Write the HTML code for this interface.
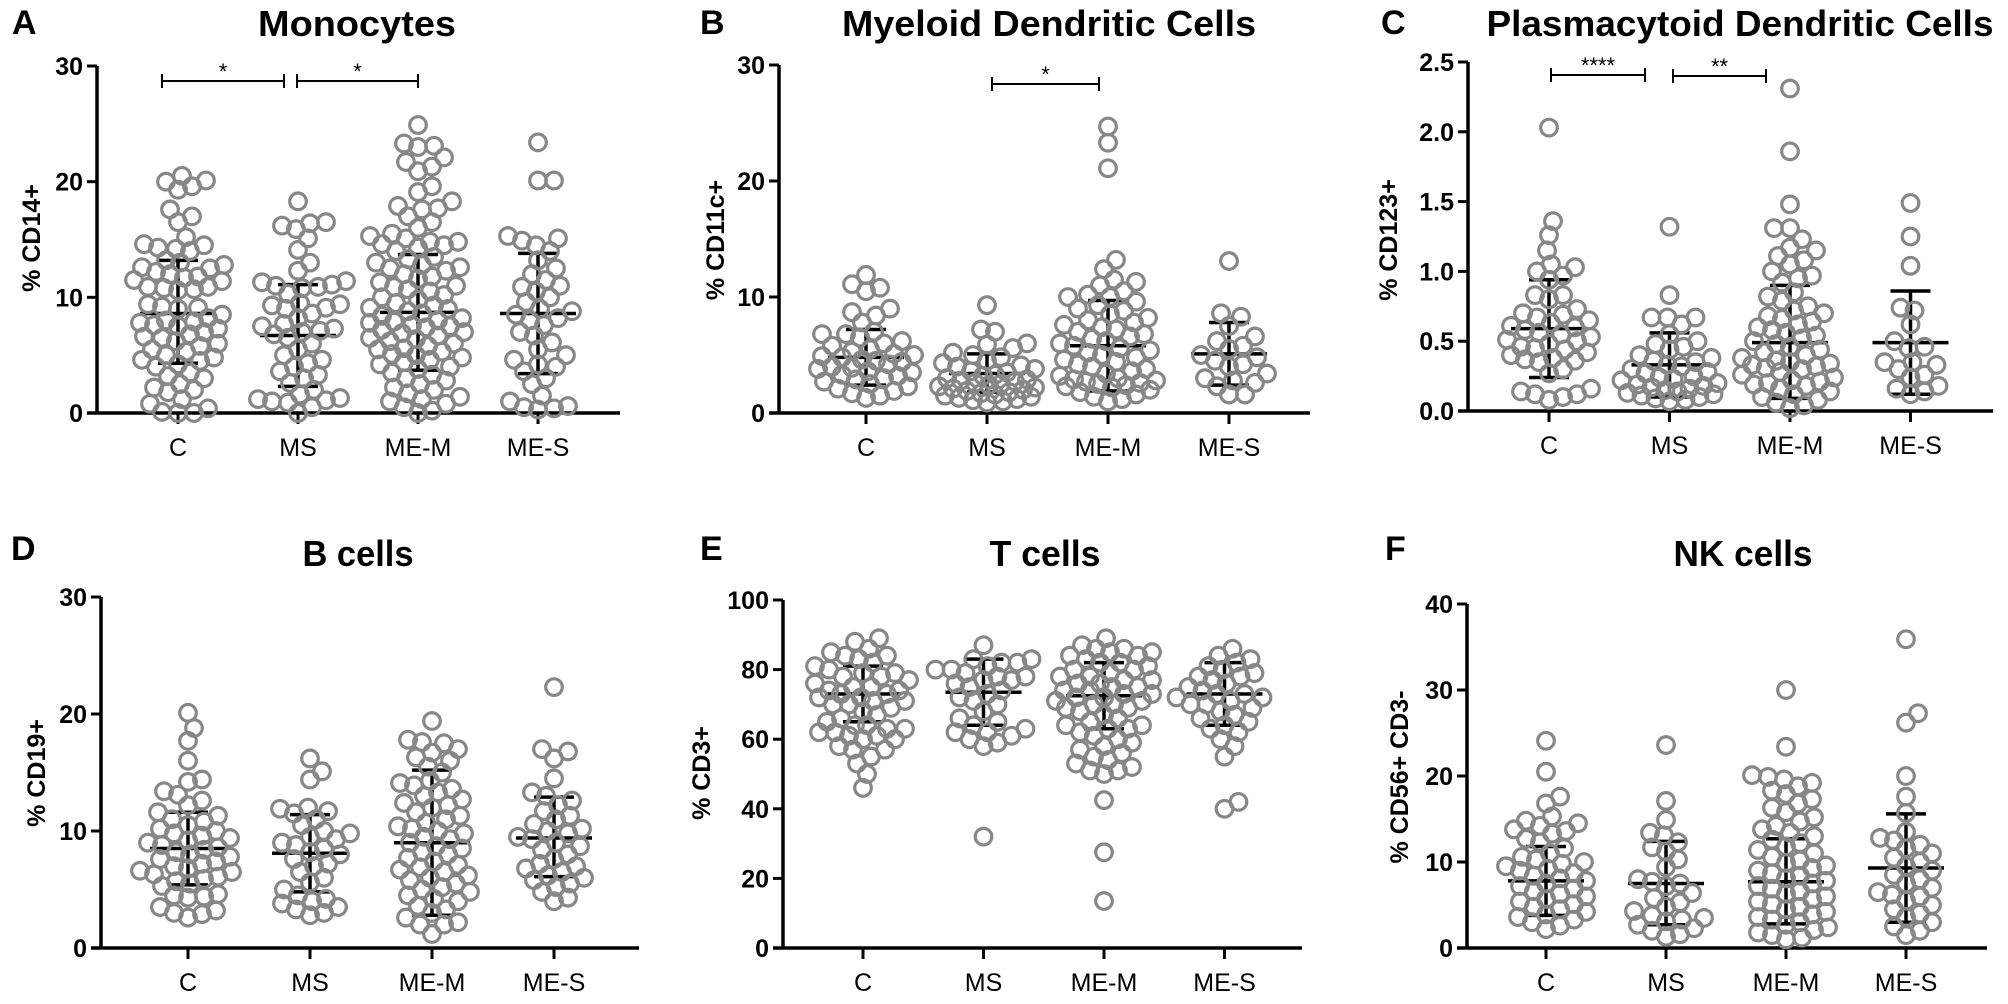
<!DOCTYPE html>
<html><head><meta charset="utf-8"><style>
body{margin:0;background:#fff;}
svg{display:block;font-family:"Liberation Sans",sans-serif;}
</style></head><body>
<svg id="fig" width="2008" height="1004" viewBox="0 0 2008 1004" xmlns="http://www.w3.org/2000/svg"></svg>
<script>
const categories = ["C","MS","ME-M","ME-S"];
// Panel A Monocytes %CD14+
const monoC=[20.1,19.6,19.3,20.0,20.5,17.6,16.5,17.0,15.2,14.5,14.3,14.2,14.0,14.6,13.2,13.0,12.8,12.5,12.2,12.6,12.0,11.8,11.5,11.4,11.7,10.9,10.8,10.7,10.6,10.9,9.2,9.0,9.4,9.1,8.5,8.2,8.0,7.8,7.6,7.9,7.5,7.3,7.0,6.8,6.6,6.5,6.2,6.0,5.8,5.5,5.3,5.0,4.8,4.6,4.5,4.2,4.0,3.5,3.2,3.0,2.5,2.2,2.0,1.8,1.2,0.8,0.4,0.1,0.0,0.0];
const monoMS=[18.3,16.5,16.2,15.9,16.4,15.1,14.1,13.0,12.3,11.3,11.1,11.0,10.9,10.8,11.4,10.3,9.5,9.3,9.1,9.4,9.0,8.6,8.2,7.7,7.5,7.3,7.1,7.0,6.8,6.5,6.0,5.5,5.0,4.6,4.3,4.0,3.6,3.3,3.0,2.6,2.0,1.6,1.3,1.1,1.0,0.9,1.2,0.5,0.0];
const monoMEM=[24.9,23.3,23.1,23.0,22.1,21.7,21.3,20.9,19.6,19.1,18.3,17.9,17.7,17.6,17.0,16.5,16.0,15.5,15.3,15.1,14.8,14.6,14.5,14.3,14.8,14.0,13.5,13.3,13.0,12.8,12.6,12.5,12.3,12.0,11.8,11.6,11.3,11.0,10.9,10.7,10.5,10.2,10.0,9.8,9.5,9.3,9.1,9.0,8.8,8.6,8.4,8.2,8.0,7.9,7.8,7.6,7.5,7.4,7.2,7.0,6.9,6.7,6.5,6.4,6.2,6.0,5.8,5.6,5.5,5.3,5.1,5.0,4.8,4.6,4.4,4.2,4.0,3.8,3.5,3.3,3.0,2.8,2.5,2.2,2.0,1.7,1.4,1.2,1.0,0.8,0.5,0.2,0.0];
const monoMES=[23.4,20.1,20.1,15.3,15.1,14.9,14.5,14.0,13.2,12.5,12.0,11.5,11.0,10.9,10.5,10.0,9.6,9.0,8.8,8.5,8.2,8.0,7.6,7.0,6.7,6.1,5.5,5.0,4.6,4.2,4.0,3.6,3.0,2.5,1.5,1.0,0.6,0.5,0.3,0.4];
const monoMean=[8.6,6.7,8.7,8.6], monoLo=[4.3,2.3,3.7,3.4], monoHi=[13.2,11.1,13.7,13.8];
// Panel B mDC %CD11c+
const mdcC=[11.9,11.1,10.8,10.5,9.0,8.7,8.4,7.8,7.0,6.8,6.8,6.5,6.2,6.0,5.8,5.5,5.3,5.1,5.0,4.9,4.8,4.6,4.5,4.4,4.2,4.0,3.9,3.8,3.6,3.5,3.3,3.2,3.0,2.9,2.7,2.5,2.3,2.1,1.9,1.7,1.5,1.3];
const mdcMS=[9.3,7.2,7.0,6.0,5.9,5.6,5.2,5.0,4.8,4.5,4.3,4.1,4.0,3.8,3.6,3.5,3.3,3.2,3.0,2.9,2.8,2.7,2.6,2.5,2.4,2.3,2.2,2.1,2.0,1.9,1.8,1.7,1.6,1.5,1.4,1.3,1.2,1.1,1.0,0.9];
const mdcMEM=[24.7,23.3,21.1,13.2,12.4,11.5,11.3,11.0,10.5,10.2,10.0,10.0,9.6,9.3,9.0,8.8,8.5,8.2,8.0,7.8,7.6,7.4,7.2,7.0,6.8,6.6,6.4,6.2,6.0,5.8,5.6,5.4,5.2,5.0,4.8,4.6,4.4,4.2,4.0,3.8,3.6,3.4,3.2,3.0,2.9,2.8,2.7,2.6,2.5,2.4,2.3,2.2,2.0,1.8,1.6,1.4,1.2,1.0];
const mdcMES=[13.1,8.6,8.3,7.5,6.6,6.2,5.8,5.5,5.0,4.8,4.5,4.2,4.0,3.4,3.0,2.8,2.6,2.3,1.6,1.6];
const mdcMean=[4.8,3.4,5.8,5.1], mdcLo=[2.4,1.8,1.9,2.4], mdcHi=[7.2,5.1,9.7,7.8];
// Panel C pDC %CD123+
const pdcC=[2.03,1.36,1.26,1.15,1.05,1.03,1.00,0.97,0.94,0.83,0.83,0.80,0.73,0.70,0.69,0.67,0.65,0.63,0.61,0.60,0.58,0.56,0.55,0.53,0.51,0.50,0.48,0.46,0.45,0.44,0.42,0.40,0.38,0.37,0.36,0.35,0.30,0.27,0.16,0.14,0.12,0.12,0.10,0.08];
const pdcMS=[1.32,0.83,0.67,0.67,0.67,0.62,0.55,0.50,0.48,0.46,0.44,0.40,0.38,0.36,0.35,0.33,0.32,0.30,0.28,0.27,0.25,0.24,0.23,0.22,0.20,0.19,0.18,0.17,0.16,0.15,0.14,0.13,0.12,0.11,0.10,0.09,0.08,0.07];
const pdcMEM=[2.31,1.86,1.48,1.31,1.31,1.23,1.17,1.15,1.11,1.08,1.05,1.00,0.97,0.95,0.92,0.85,0.82,0.79,0.75,0.72,0.70,0.68,0.66,0.64,0.62,0.60,0.58,0.56,0.54,0.52,0.50,0.48,0.46,0.44,0.42,0.40,0.38,0.36,0.35,0.34,0.33,0.32,0.31,0.30,0.28,0.26,0.24,0.22,0.21,0.20,0.19,0.18,0.16,0.14,0.12,0.10,0.08,0.06,0.04,0.02];
const pdcMES=[1.49,1.25,1.04,0.74,0.72,0.62,0.50,0.46,0.45,0.35,0.35,0.33,0.30,0.26,0.24,0.18,0.16,0.14,0.12];
const pdcMean=[0.59,0.33,0.49,0.49], pdcLo=[0.24,0.10,0.09,0.12], pdcHi=[0.94,0.56,0.90,0.86];
// Panel D B cells %CD19+
const bC=[20.1,18.8,17.7,16.0,14.4,14.2,13.4,13.1,12.6,12.2,11.6,11.3,11.0,10.8,10.5,10.2,10.0,9.8,9.6,9.4,9.2,9.0,8.8,8.6,8.4,8.2,8.0,7.8,7.6,7.4,7.2,7.0,6.8,6.6,6.5,6.3,6.1,5.9,5.7,5.5,5.3,4.6,4.5,4.4,4.3,3.5,3.2,3.0,2.9,2.6];
const bMS=[16.2,15.1,14.4,12.0,11.9,11.7,11.5,11.0,10.5,10.0,9.8,9.5,9.3,9.0,8.8,8.5,8.2,8.0,7.6,7.2,7.0,6.5,6.0,5.6,5.0,4.5,4.2,4.0,3.8,3.5,3.3,3.0,2.8];
const bMEM=[19.4,17.8,17.6,17.5,17.0,16.7,16.3,16.0,15.5,15.0,14.3,14.1,13.9,13.6,13.3,13.0,12.7,12.4,12.2,12.0,11.6,11.3,11.0,10.7,10.4,10.2,10.0,9.8,9.5,9.3,9.0,8.7,8.5,8.2,8.0,7.7,7.4,7.1,6.9,6.7,6.5,6.2,6.0,5.8,5.5,5.2,5.0,4.8,4.5,4.2,4.0,3.6,3.3,3.0,2.6,2.2,2.0,2.0,1.2];
const bMES=[22.3,17.0,16.8,16.2,14.5,13.3,13.0,12.6,12.2,11.7,11.3,11.0,10.6,10.2,10.0,9.8,9.5,9.3,9.0,8.7,8.4,8.0,7.6,7.2,7.0,6.8,6.5,6.2,6.0,5.8,5.5,5.2,4.8,4.3,4.0];
const bMean=[8.5,8.1,9.0,9.4], bLo=[5.4,4.8,2.8,6.1], bHi=[11.6,11.4,15.2,12.9];
// Panel E T cells %CD3+
const tC=[89,88,86,85,84,84,83,82,81,80,79,79,78,78,77,76,75,75,74,74,73,73,72,72,71,71,70,70,69,68,67,66,65,64,64,63,63,62,62,61,61,60,60,58,57,57,55,53,50,46];
const tMS=[87,83,83,82,82,81,80,80,79,78,78,77,77,76,75,74,73,72,71,70,68,66,65,64,63,62,62,61,60,59,58,32];
const tMEM=[89,87,86,86,85,85,84,84,83,82,82,81,80,80,79,78,78,77,77,76,76,75,75,74,74,73,73,72,72,71,71,70,70,69,69,68,67,66,65,64,64,63,63,62,61,60,59,58,57,56,55,54,53,52,51,51,50,42.5,27.5,13.5];
const tMES=[86,84,83,82,81,80,79,78,78,77,76,75,74,73,73,72,72,71,70,70,69,68,67,66,65,64,63,62,60,58,55,42,40];
const tMean=[73,73.5,72.5,73], tLo=[65,64,63,64], tHi=[81,83,82,82];
// Panel F NK cells %CD56+CD3-
const nkC=[24.1,20.5,17.6,16.8,15.3,14.8,14.5,14.2,13.8,13.6,13.3,12.7,12.3,11.6,11.0,10.6,10.3,10.0,9.8,9.5,9.2,9.0,8.7,8.4,8.1,7.8,7.5,7.2,6.9,6.6,6.3,6.0,5.7,5.4,5.1,4.8,4.5,4.2,3.9,3.6,3.3,3.0,2.6,2.2];
const nkMS=[23.6,17.1,14.9,13.4,13.1,12.3,11.7,11.2,10.3,9.4,8.0,7.7,7.5,7.2,6.4,5.8,5.3,4.8,4.3,3.8,3.5,3.3,3.1,2.7,2.3,2.0,1.6,1.3];
const nkMEM=[30.0,23.4,20.1,19.9,19.6,19.2,18.8,18.3,17.9,17.3,16.8,16.3,15.8,15.2,14.7,14.2,13.8,13.4,13.0,12.6,12.2,11.8,11.4,11.0,10.6,10.2,9.9,9.6,9.3,9.0,8.7,8.4,8.1,7.8,7.5,7.2,6.9,6.6,6.3,6.0,5.7,5.4,5.1,4.8,4.5,4.2,3.9,3.6,3.3,3.0,2.7,2.4,2.1,1.8,1.5,1.2,1.0];
const nkMES=[35.9,27.3,26.2,20.0,17.6,15.7,13.5,12.8,12.5,12.0,11.6,11.0,10.5,10.0,9.5,9.0,8.5,8.0,7.5,7.0,6.5,6.2,6.0,5.5,5.0,4.5,4.0,3.6,3.0,2.5,2.0,1.5];
const nkMean=[7.8,7.5,7.7,9.3], nkLo=[3.8,2.7,2.8,3.0], nkHi=[11.8,12.4,12.7,15.6];

const ticksA=["0","10","20","30"], ticksC=["0.0","0.5","1.0","1.5","2.0","2.5"], ticksE=["0","20","40","60","80","100"], ticksF=["0","10","20","30","40"];

const NS="http://www.w3.org/2000/svg";
const svg=document.getElementById('fig');
function mk(tag,attrs,parent){const e=document.createElementNS(NS,tag);for(const k in attrs)e.setAttribute(k,attrs[k]);(parent||svg).appendChild(e);return e;}

const panels=[
 {id:"a",letter:"A",lx:12,ly:34,title:"Monocytes",tx:357,ty:36,tw:198,ylab:"% CD14+",ylx:40,yly:238,ax:97,xEnd:620,y0:413,yTop:66,max:30,ticks:ticksA,c0:178,step:120,groups:[monoC,monoMS,monoMEM,monoMES],mean:monoMean,lo:monoLo,hi:monoHi,sig:[[162,284,81,"*"],[297,418,81,"*"]]},
 {id:"b",letter:"B",lx:700,ly:34,title:"Myeloid Dendritic Cells",tx:1049,ty:36,tw:414,ylab:"% CD11c+",ylx:724,yly:240,ax:779,xEnd:1310,y0:413,yTop:65,max:30,ticks:ticksA,c0:866,step:121,groups:[mdcC,mdcMS,mdcMEM,mdcMES],mean:mdcMean,lo:mdcLo,hi:mdcHi,sig:[[992,1099,84,"*"]]},
 {id:"c",letter:"C",lx:1381,ly:34,title:"Plasmacytoid Dendritic Cells",tx:1740,ty:36,tw:507,ylab:"% CD123+",ylx:1397,yly:240,ax:1468,xEnd:1993,y0:411,yTop:62,max:2.5,ticks:ticksC,c0:1549,step:120.5,groups:[pdcC,pdcMS,pdcMEM,pdcMES],mean:pdcMean,lo:pdcLo,hi:pdcHi,sig:[[1551,1645,75,"****"],[1673,1766,76,"**"]]},
 {id:"d",letter:"D",lx:11,ly:560,title:"B cells",tx:358,ty:566,tw:111,ylab:"% CD19+",ylx:45,yly:773,ax:101,xEnd:639,y0:948,yTop:597,max:30,ticks:ticksA,c0:188,step:122,groups:[bC,bMS,bMEM,bMES],mean:bMean,lo:bLo,hi:bHi,sig:[]},
 {id:"e",letter:"E",lx:700,ly:560,title:"T cells",tx:1045,ty:566,tw:111,ylab:"% CD3+",ylx:710,yly:773,ax:783,xEnd:1302,y0:948,yTop:600,max:100,ticks:ticksE,c0:863,step:120.5,groups:[tC,tMS,tMEM,tMES],mean:tMean,lo:tLo,hi:tHi,sig:[]},
 {id:"f",letter:"F",lx:1385,ly:560,title:"NK cells",tx:1743,ty:566,tw:139,ylab:"% CD56+ CD3-",ylx:1408,yly:777,ax:1467,xEnd:1987,y0:948,yTop:604,max:40,ticks:ticksF,c0:1546,step:120,groups:[nkC,nkMS,nkMEM,nkMES],mean:nkMean,lo:nkLo,hi:nkHi,sig:[]}
];

const R=8.3, GREY="#878787";
function swarm(vals,yf,maxW){
  const sorted=vals.map((v,i)=>({v,y:yf(v)})).sort((a,b)=>b.y-a.y);
  const placed=[];const minD=2*R*0.85;
  sorted.forEach(p=>{
    let best=null,bestScore=-1;
    for(let k=0;k<=Math.ceil(maxW/2);k++){
      const cands=k===0?[0]:[k*2,-k*2];
      for(const dx of cands){
        let md=1e9;
        for(const q of placed){if(Math.abs(q.y-p.y)<minD){const d=Math.hypot(q.dx-dx,q.y-p.y);if(d<md)md=d;}}
        if(md>=minD){best=dx;bestScore=1e9;break;}
        if(md>bestScore){bestScore=md;best=dx;}
      }
      if(bestScore===1e9)break;
    }
    p.dx=best;placed.push(p);
  });
  return placed;
}

panels.forEach(P=>{
  const g=mk('g',{});
  
  
  const yScale=v=>P.y0-(v/P.max)*(P.y0-P.yTop);
  const xScale=i=>P.c0+i*P.step;
  const L=mk('text',{x:P.lx,y:P.ly,'font-size':34,'font-weight':'bold',fill:'#000'},g);L.textContent=P.letter;
  
  const T=mk('text',{x:P.tx,y:P.ty,'text-anchor':'middle','font-size':36,'font-weight':'bold',fill:'#000',textLength:P.tw,lengthAdjust:'spacingAndGlyphs'},g);T.textContent=P.title;
  
  const YL=mk('text',{x:0,y:0,transform:`translate(${P.ylx},${P.yly}) rotate(-90)`,'text-anchor':'middle','font-size':25,'font-weight':'bold',fill:'#000'},g);YL.textContent=P.ylab;
  
  const ya=mk('line',{x1:P.ax,y1:P.yTop,x2:P.ax,y2:P.y0+1.5,stroke:'#000','stroke-width':3.5},g);
  
  const xa=mk('line',{x1:P.ax-10,y1:P.y0,x2:P.xEnd,y2:P.y0,stroke:'#000','stroke-width':3.5},g);
  
  P.ticks.forEach((t,i)=>{
    const v=parseFloat(t),y=yScale(v);
    mk('line',{x1:P.ax-10,y1:y,x2:P.ax,y2:y,stroke:'#000','stroke-width':3},g);
    const tl=mk('text',{x:P.ax-14,y:y+9,'text-anchor':'end','font-size':25,'font-weight':'bold',fill:'#000'},g);tl.textContent=t;
    
  });
  categories.forEach((c,i)=>{
    const x=xScale(i);
    mk('line',{x1:x,y1:P.y0,x2:x,y2:P.y0+11,stroke:'#000','stroke-width':3},g);
    const cl=mk('text',{x:x,y:P.y0+43,'text-anchor':'middle','font-size':25,fill:'#000'},g);cl.textContent=c;
    
  });
  categories.forEach((c,i)=>{
    const x=xScale(i);
    const m=mk('line',{x1:x-38,y1:yScale(P.mean[i]),x2:x+38,y2:yScale(P.mean[i]),stroke:'#000','stroke-width':3.5},g);
    
    const s=mk('line',{x1:x,y1:yScale(P.lo[i]),x2:x,y2:yScale(P.hi[i]),stroke:'#000','stroke-width':3.5},g);
    
    [P.lo[i],P.hi[i]].forEach(v=>mk('line',{x1:x-20,y1:yScale(v),x2:x+20,y2:yScale(v),stroke:'#000','stroke-width':3.5},g));
  });
  P.groups.forEach((vals,i)=>{
    const x=xScale(i);
    const pts=swarm(vals,yScale,48);
    pts.forEach(p=>{
      const c=mk('circle',{cx:x+p.dx,cy:p.y,r:R,fill:'none',stroke:GREY,'stroke-width':3.2},g);
      
      
    });
  });
  P.sig.forEach(s=>{
    const [x1,x2,y,lab]=s;
    const b=mk('path',{d:`M${x1},${y-7}V${y+7}M${x1},${y}H${x2}M${x2},${y-7}V${y+7}`,stroke:'#000','stroke-width':2,fill:'none'},g);
    
    const st=mk('text',{x:(x1+x2)/2,y:y-2,'text-anchor':'middle','font-size':22,fill:'#000'},g);st.textContent=lab;
    
  });
});
</script>
</body></html>
